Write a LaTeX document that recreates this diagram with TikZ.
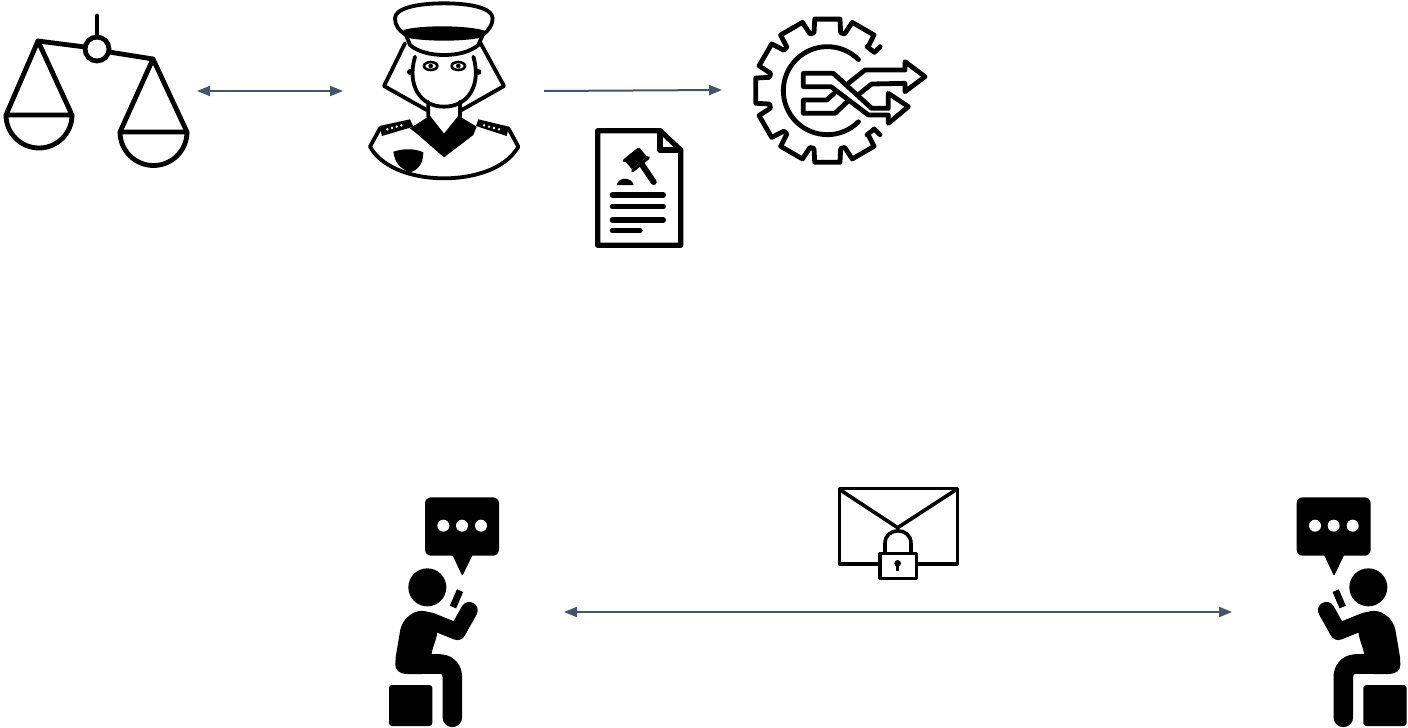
\documentclass[tikz,border=0pt]{standalone}
\usepackage{xcolor}
\usepackage{tikz}
\usetikzlibrary{arrows.meta}
\definecolor{flowSlate}{HTML}{44546A}
\definecolor{iconBlack}{HTML}{000000}
\tikzset{
  flowarrow/.style={{Triangle[length=6.5pt,width=5pt]}-{Triangle[length=6.5pt,width=5pt]}, line width=1pt, draw=flowSlate},
  oneway/.style={-{Triangle[length=6.5pt,width=5pt]}, line width=1pt, draw=flowSlate},
  iconbox/.style={rectangle, inner sep=0pt, outer sep=0pt, minimum height=60pt, minimum width=#1},
  iconline/.style={draw=iconBlack, line width=2.4pt, line join=round, line cap=round},
  zoomed/.style={x=0.16667pt, y=-0.16667pt},
}
% seated figure, drawn in the 3x grid
\newcommand{\sitfigure}{
  \fill[iconBlack, rounded corners=1.5pt] (27,585) rectangle (157,708);
  \fill[iconBlack] (142,292) circle (57);
  \draw[iconBlack, line width=3.4pt] (240,302) -- (219,351);
  \draw[iconBlack, line width=9.8pt, line cap=round, line join=round, rounded corners=6pt] (75,522) -- (217,522) -- (217,682);
  \draw[iconBlack, line width=8.4pt, line cap=round, line join=round] (268,361) -- (232,425) -- (150,392);
  \fill[iconBlack, rounded corners=4pt] (112,358) -- (170,372) -- (175,425) -- (152,495) -- (150,552) -- (60,552) -- (43,525) -- (65,395) -- cycle;
}
\newcommand{\talkbubble}{
  \fill[iconBlack, rounded corners=3pt] (0,22) rectangle (222,197);
  \fill[iconBlack, rounded corners=0.6pt] (80,190) -- (112,258) -- (145,190) -- cycle;
  \foreach \d in {55,111,168} { \fill[white] (\d,107) circle (18); }
}
\begin{document}
\begin{tikzpicture}[x=0.5pt,y=-0.5pt]
  \useasboundingbox (0,0) rectangle (1408,728);

  \node[iconbox=100.5pt] (scales) at (96.5,91) {};
  \node[iconbox=100.5pt] (officer) at (443.5,91) {};
  \node[iconbox=118pt] (gear) at (840,90) {};
  \node[iconbox=124pt] (senderman) at (440,612) {};
  \node[iconbox=123pt] (receiverman) at (1355,612) {};

  \draw[flowarrow] (scales.east) -- (officer.west);
  \draw[oneway] (officer.east) -- (gear.west);
  \draw[flowarrow] (senderman.east) -- (receiverman.west);

  % scales
  \draw[iconline] (97,16) -- (97,37);
  \draw[iconline] (97,49) circle (12);
  \draw[iconline] (85,47) -- (38,41) (109,52) -- (153,59);
  \draw[iconline] (38,41) -- (6,115) -- (72,115) -- cycle;
  \draw[iconline] (153,59) -- (120,132) -- (187,132) -- cycle;
  \draw[iconline] (6,115) arc[start angle=180, end angle=0, radius=33];
  \draw[iconline] (120,132) arc[start angle=180, end angle=0, radius=33.5];

  % officer
  \begin{scope}[shift={(360,0)},zoomed,iconline/.append style={line width=1.9pt}]
    \draw[iconline] (30,440) -- (60,385) (445,385) -- (475,440);
    \draw[iconline] (30,440) .. controls (70,510) and (170,535) .. (252,535) .. controls (335,535) and (435,510) .. (475,440);
    \draw[iconline] (135,130) -- (72,258) -- (200,330);
    \draw[iconline] (362,130) -- (432,258) -- (305,330);
    \fill[iconBlack] (150,216) circle (9) (355,216) circle (9);
    \draw[iconline] (205,305) -- (205,350) -- (252,410) -- (300,350) -- (300,305);
    \draw[iconline] (165,170) .. controls (140,255) and (180,320) .. (252,320) .. controls (325,320) and (365,255) .. (340,170);
    \draw[iconline, fill=white] (138,105) .. controls (115,90) and (105,75) .. (105,55) .. controls (105,25) and (170,10) .. (252,10) .. controls (335,10) and (398,25) .. (398,55) .. controls (398,75) and (385,92) .. (368,105) -- (355,135) .. controls (310,175) and (195,175) .. (150,135) -- cycle;
    \fill[iconBlack] (130,90) .. controls (180,75) and (320,75) .. (375,92) -- (362,113) .. controls (310,125) and (195,125) .. (140,113) -- cycle;
    \draw[draw=iconBlack, line width=1.3pt, fill=white] (212,198) ellipse (20 and 12) (295,198) ellipse (20 and 12);
    \fill[iconBlack] (212,198) circle (7) (295,198) circle (7);
    \fill[iconBlack] (205,350) -- (150,385) -- (175,405) -- (252,472) -- (340,405) -- (350,380) -- (300,350) -- (252,410) -- cycle;
    \fill[iconBlack] (58,378) -- (150,358) -- (160,380) -- (66,408) -- cycle;
    \fill[iconBlack] (348,378) -- (355,358) -- (447,380) -- (440,408) -- cycle;
    \foreach \d in {0,1,2,3} {
      \fill[white] (82+\d*14,388-\d*4) circle (4);
      \fill[white] (372+\d*15,376+\d*4) circle (4);
    }
    \fill[iconBlack] (100,455) .. controls (130,445) and (165,445) .. (190,457) .. controls (190,490) and (175,510) .. (150,517) .. controls (120,505) and (105,490) .. (100,455) -- cycle;
  \end{scope}

  % gear with crossing arrows
  \begin{scope}[shift={(745,10)},zoomed]
    \begin{scope}[shift={(247,242)}]
      \draw[iconline] (158,-132) -- (141,-115) -- (-48:178)
        \foreach \a in {-60,-90,-120,-150,-180,-210,-240,-270,-300} { -- (\a+13:178) -- (\a+10:218) -- (\a-10:218) -- (\a-13:178) }
        -- (-312:178) -- (141,115) -- (158,132);
      \draw[iconline] (-45:132) arc[start angle=-45, end angle=-315, radius=132];
    \end{scope}
    \draw[iconline] (175,230) -- (175,190) -- (265,190) -- (380,295) -- (430,295) -- (430,250) -- (490,290) -- (430,340) -- (430,315) -- (370,315) -- (258,230) -- cycle;
    \draw[iconline] (268,250) -- (245,270) -- (175,270) -- (175,310) -- (270,310) -- (310,272);
    \draw[iconline] (310,220) -- (360,180) -- (480,180) -- (480,155) -- (540,200) -- (480,245) -- (480,220) -- (380,222) -- (345,250);
  \end{scope}

  % ruling document
  \begin{scope}[shift={(585,120)},zoomed]
    \draw[iconline, line width=2.6pt] (38,32) -- (225,32) -- (287,90) -- (287,376) -- (38,376) -- cycle;
    \draw[iconline, line width=2.6pt] (225,32) -- (225,90) -- (287,90);
    \draw[iconBlack, line width=5.5pt] (130,135) -- (175,97);
    \draw[iconBlack, line width=1.6pt, line cap=round] (118,122) -- (160,88) (143,152) -- (190,113);
    \draw[iconBlack, line width=3pt, line cap=round] (165,125) -- (206,186);
    \fill[iconBlack] (95,195) .. controls (100,170) and (140,170) .. (146,195) -- cycle;
    \foreach \l/\r in {225/235,260/235,300/235,332/165} {
      \draw[iconBlack, line width=2.6pt, line cap=round] (82,\l) -- (\r,\l);
    }
  \end{scope}

  % envelope with lock
  \begin{scope}[shift={(830,480)},zoomed]
    \draw[iconline, line width=1.8pt] (28,25) rectangle (382,252);
    \draw[iconline, line width=1.8pt] (28,28) -- (203,143) -- (380,28);
    \draw[iconline, line width=1.8pt] (165,220) -- (165,190) .. controls (165,140) and (243,140) .. (243,190) -- (243,220);
    \draw[iconline, line width=1.8pt, fill=white] (150,220) rectangle (260,295);
    \fill[iconBlack] (203,250) circle (10);
    \draw[iconBlack, line width=1.2pt] (203,250) -- (203,272);
  \end{scope}

  % left person
  \begin{scope}[shift={(380,490)},zoomed]
    \sitfigure
    \begin{scope}[shift={(135,0)}]
      \talkbubble
    \end{scope}
  \end{scope}

  % right person
  \begin{scope}[shift={(1415.67,490)},x=-0.16667pt,y=-0.16667pt]
    \sitfigure
  \end{scope}
  \begin{scope}[shift={(1285,490)},zoomed]
    \begin{scope}[shift={(35,0)}]
      \talkbubble
    \end{scope}
  \end{scope}
\end{tikzpicture}
\end{document}
